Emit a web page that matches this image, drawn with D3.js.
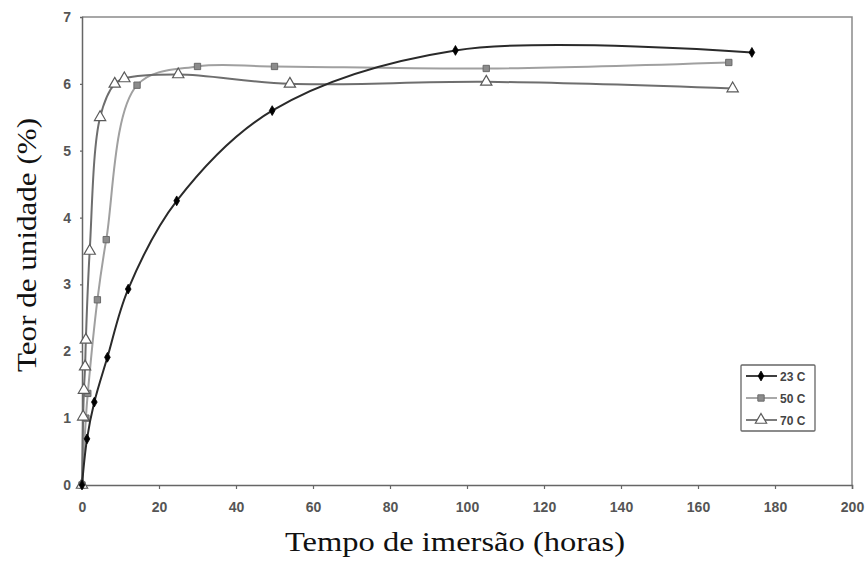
<!DOCTYPE html>
<html lang="pt">
<head>
<meta charset="UTF-8">
<title>Teor de umidade x Tempo de imersão</title>
<style>
  body { margin: 0; background: #fff; }
  .tick text { font-family: Arial, "Liberation Sans", sans-serif; font-size: 14px; font-weight: bold; fill: #555; }
  .axis-title { font-family: "Times New Roman", "Liberation Serif", serif; fill: #111; }
  .legend text { font-family: Arial, "Liberation Sans", sans-serif; font-size: 12px; font-weight: bold; fill: #444; }
</style>
<script src="https://d3js.org/d3.v7.min.js"></script>
</head>
<body>
<svg id="chart" width="866" height="563"></svg>
<script>
// tempo (horas) / teor de umidade (%)
const t23 = [0, 1.3, 3.2, 6.6, 12, 24.6, 49.4, 97, 174];
const u23 = [0, 0.69, 1.24, 1.91, 2.93, 4.25, 5.6, 6.5, 6.47];

const t50 = [0, 1, 1.5, 4, 6.3, 14.3, 30, 50, 105, 168];
const u50 = [0, 1.0, 1.37, 2.77, 3.67, 5.98, 6.26, 6.26, 6.23, 6.32];

const t70 = [0, 0.3, 0.5, 0.8, 1, 2, 4.7, 8.5, 11, 25, 54, 105, 169];
const u70 = [0, 1.02, 1.42, 1.77, 2.17, 3.5, 5.5, 6.0, 6.08, 6.14, 6.0, 6.03, 5.93];

const xTicks = [0, 20, 40, 60, 80, 100, 120, 140, 160, 180, 200];
const yTicks = [0, 1, 2, 3, 4, 5, 6, 7];

const series = [
  { name: "23 C", t: t23, u: u23, line: "#2a2a2a", marker: "diamond" },
  { name: "50 C", t: t50, u: u50, line: "#a0a0a0", marker: "square" },
  { name: "70 C", t: t70, u: u70, line: "#6e6e6e", marker: "triangle" }
];

const svg = d3.select("#chart");
const mLeft = 82, mRight = 852, mTop = 17, mBottom = 485;

const x = d3.scaleLinear().domain([0, 200]).range([mLeft, mRight]);
const y = d3.scaleLinear().domain([0, 7]).range([mBottom, mTop]);

// moldura
svg.append("path")
  .attr("d", `M${mLeft},${mTop}H${mRight}V${mBottom}`)
  .attr("fill", "none").attr("stroke", "#8a8a8a").attr("stroke-width", 1.5);

const xAxis = svg.append("g")
  .attr("transform", `translate(0,${mBottom})`)
  .call(d3.axisBottom(x).tickValues(xTicks).tickFormat(d3.format("d")).tickSize(4).tickPadding(13));
const yAxis = svg.append("g")
  .attr("transform", `translate(${mLeft},0)`)
  .call(d3.axisLeft(y).tickValues(yTicks).tickFormat(d3.format("d")).tickSize(2).tickPadding(9));
[xAxis, yAxis].forEach(a => {
  a.select(".domain").attr("stroke", "#666").attr("stroke-width", 1.5);
  a.selectAll(".tick line").attr("stroke", "#666").attr("stroke-width", 1.2);
});

const line = d3.line()
  .x(d => x(d[0])).y(d => y(d[1]))
  .curve(d3.curveCatmullRom.alpha(0.5));

const symbols = {
  diamond: d3.symbol().type(d3.symbolDiamond).size(28),
  square: d3.symbol().type(d3.symbolSquare).size(40),
  triangle: d3.symbol().type(d3.symbolTriangle).size(55)
};

function drawMarker(g, s, px, py) {
  const m = g.append("path")
    .attr("d", symbols[s.marker]())
    .attr("transform", `translate(${px},${py})`);
  if (s.marker === "diamond") m.attr("fill", "#000").attr("stroke", "#000").attr("stroke-width", 0.8);
  else if (s.marker === "square") m.attr("fill", "#8c8c8c").attr("stroke", "#6a6a6a").attr("stroke-width", 1);
  else m.attr("fill", "#fff").attr("stroke", "#5a5a5a").attr("stroke-width", 1.2);
}

// desenhar na ordem 50, 70, 23
[series[1], series[2], series[0]].forEach(s => {
  const pts = s.t.map((v, i) => [v, s.u[i]]);
  svg.append("path")
    .datum(pts)
    .attr("d", line)
    .attr("fill", "none")
    .attr("stroke", s.line)
    .attr("stroke-width", 2);
  const g = svg.append("g");
  pts.forEach(p => drawMarker(g, s, x(p[0]), y(p[1])));
});

// legenda
const lg = svg.append("g").attr("class", "legend").attr("transform", "translate(741,365)");
lg.append("rect").attr("width", 74).attr("height", 66)
  .attr("fill", "#fff").attr("stroke", "#666").attr("stroke-width", 1.3).attr("rx", 1);
series.forEach((s, i) => {
  const yy = 11 + i * 22;
  lg.append("line").attr("x1", 5).attr("x2", 36).attr("y1", yy).attr("y2", yy)
    .attr("stroke", s.line).attr("stroke-width", 1.8);
  drawMarker(lg, s, 20, yy);
  lg.append("text").attr("x", 39).attr("y", yy + 4.5).text(s.name);
});

// títulos dos eixos
svg.append("text").attr("class", "axis-title")
  .attr("x", 455).attr("y", 551)
  .attr("text-anchor", "middle").attr("font-size", 28)
  .attr("textLength", 340).attr("lengthAdjust", "spacingAndGlyphs")
  .text("Tempo de imersão (horas)");
svg.append("text").attr("class", "axis-title")
  .attr("transform", "translate(36,245) rotate(-90)")
  .attr("text-anchor", "middle").attr("font-size", 27)
  .attr("textLength", 254).attr("lengthAdjust", "spacingAndGlyphs")
  .text("Teor de unidade (%)");
</script>
</body>
</html>
